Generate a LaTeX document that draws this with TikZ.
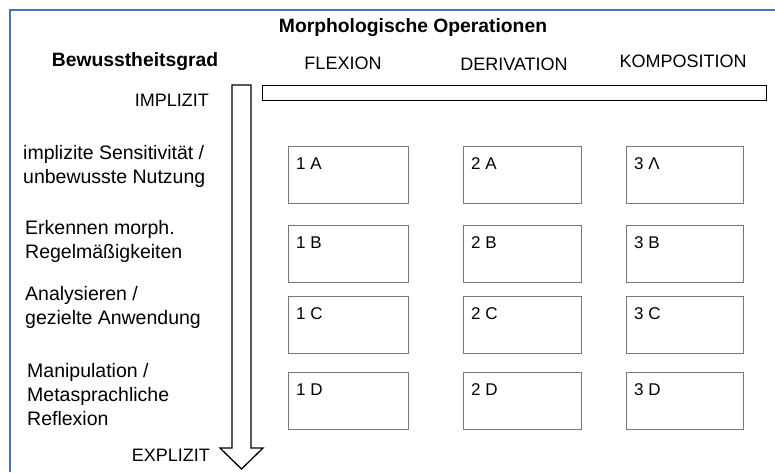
\documentclass[tikz,border=0pt]{standalone}
\usepackage{fontspec}
\setmainfont{Liberation Sans}
\definecolor{frameblue}{HTML}{4472C4}
\definecolor{boxgray}{HTML}{777777}
\begin{document}
\begin{tikzpicture}[x=1pt,y=-1pt,
  lvl/.style={anchor=west,align=left,inner sep=0pt,font=\fontsize{19.5}{24}\selectfont},
  head/.style={inner sep=0pt,font=\fontsize{18}{22}\selectfont},
  bhead/.style={inner sep=0pt,font=\fontsize{19.3}{22}\selectfont\bfseries},
  cell/.style={draw=boxgray,line width=1.1pt,minimum width=#1,minimum height=57pt,anchor=north west,inner sep=0pt},
  celltxt/.style={anchor=west,inner sep=0pt,font=\fontsize{17}{19}\selectfont}]
\useasboundingbox (0,0) rectangle (775,472);
\fill[white] (0,0) rectangle (775,472);
% frame (only left and top edges visible)
\draw[frameblue,line width=1.5pt] (10,472) -- (10,10) -- (775,10);
% headings
\node[bhead] (title) at (413,28) {Morphologische Operationen};
\node[bhead] (bew) at (135,62) {Bewusstheitsgrad};
\node[head] (flex) at (343,63) {FLEXION};
\node[head] (deriv) at (514,64) {DERIVATION};
\node[head] (komp) at (683,61) {KOMPOSITION};
\node[head,anchor=east] (impl) at (209,100) {IMPLIZIT};
\node[head,anchor=east] (expl) at (210,455) {EXPLIZIT};
% level labels
\node[lvl] (lA) at (23,166) {implizite Sensitivität /\\unbewusste Nutzung};
\node[lvl] (lB) at (25,241) {Erkennen morph.\\Regelmäßigkeiten};
\node[lvl] (lC) at (25,307) {Analysieren /\\gezielte Anwendung};
\node[lvl] (lD) at (27,395) {Manipulation /\\Metasprachliche\\Reflexion};
% vertical block arrow
\coordinate (atop) at (241.5,85);
\coordinate (atip) at (241.5,469);
\draw[line width=1.3pt,line join=miter]
  (232,85) -- (251,85) -- (251,448) -- (263,448) -- (atip) -- (220,448) -- (232,448) -- cycle;
% horizontal bar
\node[draw,line width=1.3pt,anchor=north west,minimum width=504pt,minimum height=15pt,inner sep=0pt] (bar) at (262,85) {};
% cells
\foreach \c/\x/\w in {1/288/120,2/463/118,3/626/117}{
  \foreach \r/\y in {A/146,B/225,C/296,D/372}{
    \node[cell=\w pt] (c\c\r) at (\x,\y) {};
  }
}
\foreach \c/\r/\t in {1/A/1 A,2/A/2 A,3/A/3 Λ,1/B/1 B,2/B/2 B,3/B/3 B,1/C/1 C,2/C/2 C,3/C/3 C,1/D/1 D,2/D/2 D,3/D/3 D}{
  \node[celltxt] (t\c\r) at ([xshift=8pt,yshift=-18pt]c\c\r.north west) {\t};
}
\end{tikzpicture}
\end{document}
